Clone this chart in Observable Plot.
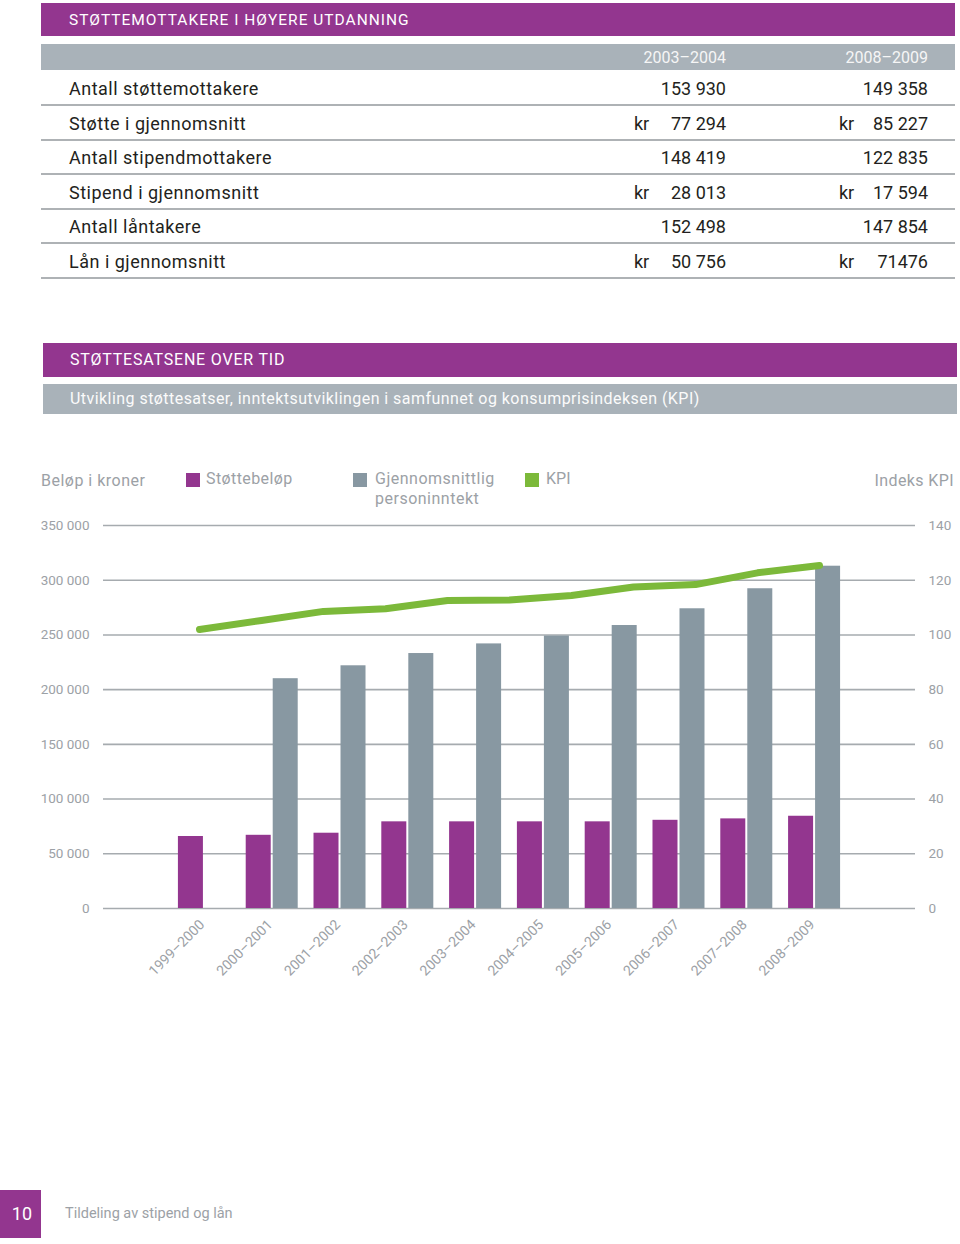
<!DOCTYPE html>
<html><head><meta charset="utf-8">
<script src="https://cdn.jsdelivr.net/npm/d3@7"></script>
<script src="https://cdn.jsdelivr.net/npm/@observablehq/plot@0.6"></script>
<style>
body{margin:0;background:#fff;font-family:Roboto,"Noto Sans",sans-serif;}
#page{position:relative;width:960px;height:1244px;overflow:hidden;background:#fff;}
.abs{position:absolute;white-space:nowrap;}
.chart{position:absolute;left:0;top:460px;}
</style></head><body><div id="page"></div>
<script>
// ---------- data ----------
const tableTitle = "STØTTEMOTTAKERE I HØYERE UTDANNING";
const tableColumns = ["2003–2004", "2008–2009"];
const tableRows = ["Antall støttemottakere", "Støtte i gjennomsnitt", "Antall stipendmottakere", "Stipend i gjennomsnitt", "Antall låntakere", "Lån i gjennomsnitt"];
const values0304 = ["153 930", "77 294", "148 419", "28 013", "152 498", "50 756"];
const values0809 = ["149 358", "85 227", "122 835", "17 594", "147 854", "71476"];
const krPrefix = [false, true, false, true, false, true];

const chartTitle = "STØTTESATSENE OVER TID";
const chartSubtitle = "Utvikling støttesatser, inntektsutviklingen i samfunnet og konsumprisindeksen (KPI)";
const years = ["1999–2000", "2000–2001", "2001–2002", "2002–2003", "2003–2004", "2004–2005", "2005–2006", "2006–2007", "2007–2008", "2008–2009"];
const stotteValues = [65800, 66900, 68800, 79200, 79200, 79200, 79200, 80600, 81900, 84300];
const inntektValues = [null, 210000, 221800, 233000, 241800, 249000, 258600, 273900, 292200, 312800];
const kpiYears = ["1999", "2000", "2001", "2002", "2003", "2004", "2005", "2006", "2007", "2008", "2009"];
const kpiValues = [102.0, 105.3, 108.6, 109.6, 112.6, 112.8, 114.4, 117.5, 118.4, 122.7, 125.4];
const yTicks = [0, 50000, 100000, 150000, 200000, 250000, 300000, 350000];
const seriesNames = ["Støttebeløp", "Gjennomsnittlig personinntekt", "KPI"];
const pageNumber = "10";
const footerText = "Tildeling av stipend og lån";

// ---------- styles ----------
const PURPLE = "#93368f", GREY = "#8898a2", GREEN = "#7cb93a", HEADGREY = "#a9b2b9";
const AXISTXT = "#9ca1a6", GRID = "#a6abaf";

const page = document.getElementById("page");
function box(x, y, w, h, bg) {
  const d = document.createElement("div");
  d.className = "abs";
  Object.assign(d.style, {left: x + "px", top: y + "px", width: w + "px", height: h + "px", background: bg});
  page.appendChild(d); return d;
}
function txt(s, x, yc, opts = {}) {
  const d = document.createElement("div");
  d.className = "abs";
  d.textContent = s;
  const size = opts.size || 17, lh = opts.lh || 24;
  Object.assign(d.style, {top: (yc - lh / 2) + "px", lineHeight: lh + "px", fontSize: size + "px",
    color: opts.color || "#231f20", letterSpacing: (opts.ls || 0) + "px", fontWeight: opts.weight || 400});
  if (opts.right != null) { d.style.right = (960 - opts.right) + "px"; d.style.textAlign = "right"; }
  else d.style.left = x + "px";
  page.appendChild(d); return d;
}

// ---------- table ----------
box(41, 3, 914, 33, PURPLE);
txt(tableTitle, 69, 20, {size: 15.5, color: "#fff", ls: 1});
box(41, 44, 914, 26, HEADGREY);
txt(tableColumns[0], 0, 58, {size: 16, color: "#f6f6f6", right: 726});
txt(tableColumns[1], 0, 58, {size: 16, color: "#f6f6f6", right: 928});
tableRows.forEach((r, i) => {
  const yc = 89 + 34.6 * i;
  txt(r, 69, yc, {size: 18, ls: 0.5});
  txt(values0304[i], 0, yc, {size: 18, right: 726});
  txt(values0809[i], 0, yc, {size: 18, right: 928});
  if (krPrefix[i]) { txt("kr", 634, yc, {size: 18}); txt("kr", 839, yc, {size: 18}); }
  box(41, 104 + 34.6 * i, 914, 2, "#aeb2b5");
});

// ---------- chart headers ----------
box(43, 343, 914, 34, PURPLE);
txt(chartTitle, 70, 360, {size: 16, color: "#fff", ls: 0.8});
box(43, 384, 914, 30, HEADGREY);
txt(chartSubtitle, 70, 399, {size: 16, color: "#fbfbfb", ls: 0.45});

// legend + axis titles
txt("Beløp i kroner", 41, 481, {size: 16, color: AXISTXT, ls: 0.5});
txt("Indeks KPI", 0, 481, {size: 16, color: AXISTXT, right: 954, ls: 0.4});
box(186, 473, 14, 14, PURPLE);
txt(seriesNames[0], 206, 479, {size: 16, color: AXISTXT, ls: 0.4});
box(353, 473, 14, 14, GREY);
txt("Gjennomsnittlig", 375, 479, {size: 16, color: AXISTXT, ls: 0.5});
txt("personinntekt", 375, 499, {size: 16, color: AXISTXT, ls: 0.5});
box(525, 473, 14, 14, GREEN);
txt(seriesNames[2], 546, 479, {size: 16, color: AXISTXT});

// ---------- main chart ----------
const stotte = years.map((y, i) => ({year: y, value: stotteValues[i]}));
const inntekt = years.map((y, i) => ({year: y, value: inntektValues[i]})).filter(d => d.value != null);
const kpi = kpiYears.map((y, i) => ({year: y, value: kpiValues[i]}));
const fmt = d => d3.format(",")(d).replace(/,/g, " ");

const main = Plot.plot({
  width: 960, height: 540,
  marginTop: 65, marginBottom: 92, marginLeft: 103, marginRight: 45,
  style: {fontFamily: "Roboto, sans-serif", fontSize: "13.5px", color: AXISTXT, background: "transparent"},
  x: {domain: years, paddingInner: 0.233, paddingOuter: 1.105, round: false, axis: null},
  y: {domain: [0, 350000], axis: null},
  marks: [
    Plot.ruleY(yTicks, {stroke: GRID, strokeWidth: 1.6}),
    Plot.barY(stotte, {x: "year", y: "value", fill: PURPLE, insetRight: 27}),
    Plot.barY(inntekt, {x: "year", y: "value", fill: GREY, insetLeft: 27}),
    Plot.axisY({ticks: yTicks, tickSize: 0, tickPadding: 14, tickFormat: fmt, label: null}),
    Plot.axisY({anchor: "right", ticks: yTicks, tickSize: 0, tickPadding: 13, tickFormat: d => d / 2500, label: null, textAnchor: "start"}),
    Plot.text(years, {x: d => d, frameAnchor: "bottom", rotate: -45, textAnchor: "end", dy: 17, dx: 1, fill: AXISTXT, fontSize: 14})
  ]
});
main.classList.add("chart");
page.appendChild(main);

// KPI line on its own index scale (0–140), overlaid
const overlay = Plot.plot({
  width: 960, height: 540,
  marginTop: 65, marginBottom: 92, marginLeft: 197, marginRight: 140,
  style: {background: "transparent"},
  x: {type: "point", domain: kpiYears, padding: 0, axis: null},
  y: {domain: [0, 140], axis: null},
  marks: [
    Plot.line(kpi, {x: "year", y: "value", stroke: GREEN, strokeWidth: 7, strokeLinecap: "round", strokeLinejoin: "round"})
  ]
});
overlay.classList.add("chart");
page.appendChild(overlay);

// ---------- footer ----------
box(0, 1190, 41, 48, PURPLE);
txt(pageNumber, 0, 1214, {size: 18, color: "#fff", right: 32});
txt(footerText, 65, 1214, {size: 14.5, color: AXISTXT});
</script></body></html>
